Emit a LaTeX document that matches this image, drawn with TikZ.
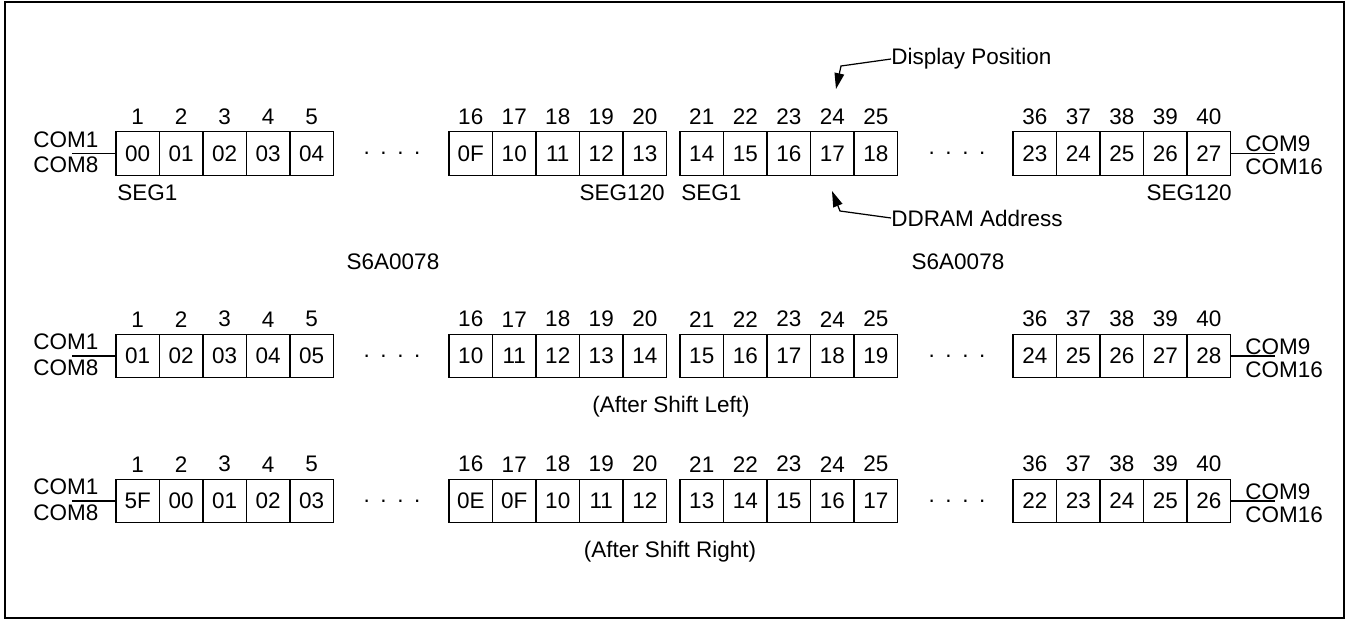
\documentclass[tikz,border=0pt]{standalone}
\usepackage{fontspec}
\setmainfont{Liberation Sans}
\usetikzlibrary{arrows.meta,positioning}
\tikzset{
	cell/.style={draw, line width=0.7pt, minimum width=0.87cm, minimum height=0.87cm, inner sep=0pt},
	lbl/.style={inner sep=0pt},
	ptr/.style={line width=0.7pt, -{Triangle[length=9pt,width=5.5pt]}},
}
\begin{document}
\begin{tikzpicture}[x=0.02cm, y=-0.02cm, font=\fontsize{12.8}{15}\selectfont]
		\useasboundingbox (0,0) rectangle (1346,619);
		\draw[line width=0.85pt] (5,2) rectangle (1344,618);
		
		\foreach \r/\y/\vals in {1/153.5/{00,01,02,03,04,0F,10,11,12,13,14,15,16,17,18,23,24,25,26,27},
			2/356/{01,02,03,04,05,10,11,12,13,14,15,16,17,18,19,24,25,26,27,28},
			3/501/{5F,00,01,02,03,0E,0F,10,11,12,13,14,15,16,17,22,23,24,25,26}}{
			\foreach \v [count=\i] in \vals {
				\pgfmathsetmacro\g{int((\i-1)/5)}
				\pgfmathsetmacro\cx{{116,449,680,1013}[\g]+21.75+43.5*mod(\i-1,5)}
				\pgfmathtruncatemacro\n{\i+10*int((\g+1)/2)}
				\node[cell] (c\r-\i) at (\cx,\y) {\v};
				\node[lbl, above=3.5pt of c\r-\i] (n\r-\i) {\n};
			}
			\coordinate (cl\r) at (72,\y);
			\coordinate (cr\r) at (1275,\y);
			\draw[line width=0.7pt] (cl\r) -- (c\r-1.west);
			\draw[line width=0.7pt] (c\r-20.east) -- (cr\r);
			\node[lbl, anchor=base west] (com1-\r) at (33,\y-6.5) {COM1};
			\node[lbl, anchor=base west] (com8-\r) at (33,\y+19) {COM8};
			\node[lbl, anchor=base west] (com9-\r) at (1245,\y-2) {COM9};
			\node[lbl, anchor=base west] (com16-\r) at (1245,\y+21) {COM16};
			\node[lbl] (dl\r) at (392,\y) {.\hspace{6pt}.\hspace{6pt}.\hspace{6pt}.};
			\node[lbl] (dr\r) at (957,\y) {.\hspace{6pt}.\hspace{6pt}.\hspace{6pt}.};
		}
		
		\node[lbl, anchor=base west] (seg1a) at (117,200) {SEG1};
		\node[lbl, anchor=base east] (seg120a) at (665,200) {SEG120};
		\node[lbl, anchor=base west] (seg1b) at (681,200) {SEG1};
		\node[lbl, anchor=base east] (seg120b) at (1232,200) {SEG120};
		
		\node[lbl, anchor=west] (dpos) at (891,59) {Display Position};
		\node[lbl, anchor=west] (ddram) at (891,218) {DDRAM Address};
		\coordinate (dbend) at (841,66);
		\coordinate (dtip) at (836,89);
		\coordinate (abend) at (840,211);
		\coordinate (atip) at (832,191);
		\draw[ptr] (dpos.west) -- (dbend) -- (dtip);
		\draw[ptr] (ddram.west) -- (abend) -- (atip);
		
		\node[lbl] (chipa) at (393,262) {S6A0078};
		\node[lbl] (chipb) at (958,262) {S6A0078};
		\node[lbl] (sleft) at (671,407) {(After Shift Left)};
		\node[lbl] (sright) at (670,552) {(After Shift Right)};
		\end{tikzpicture}
\end{document}
